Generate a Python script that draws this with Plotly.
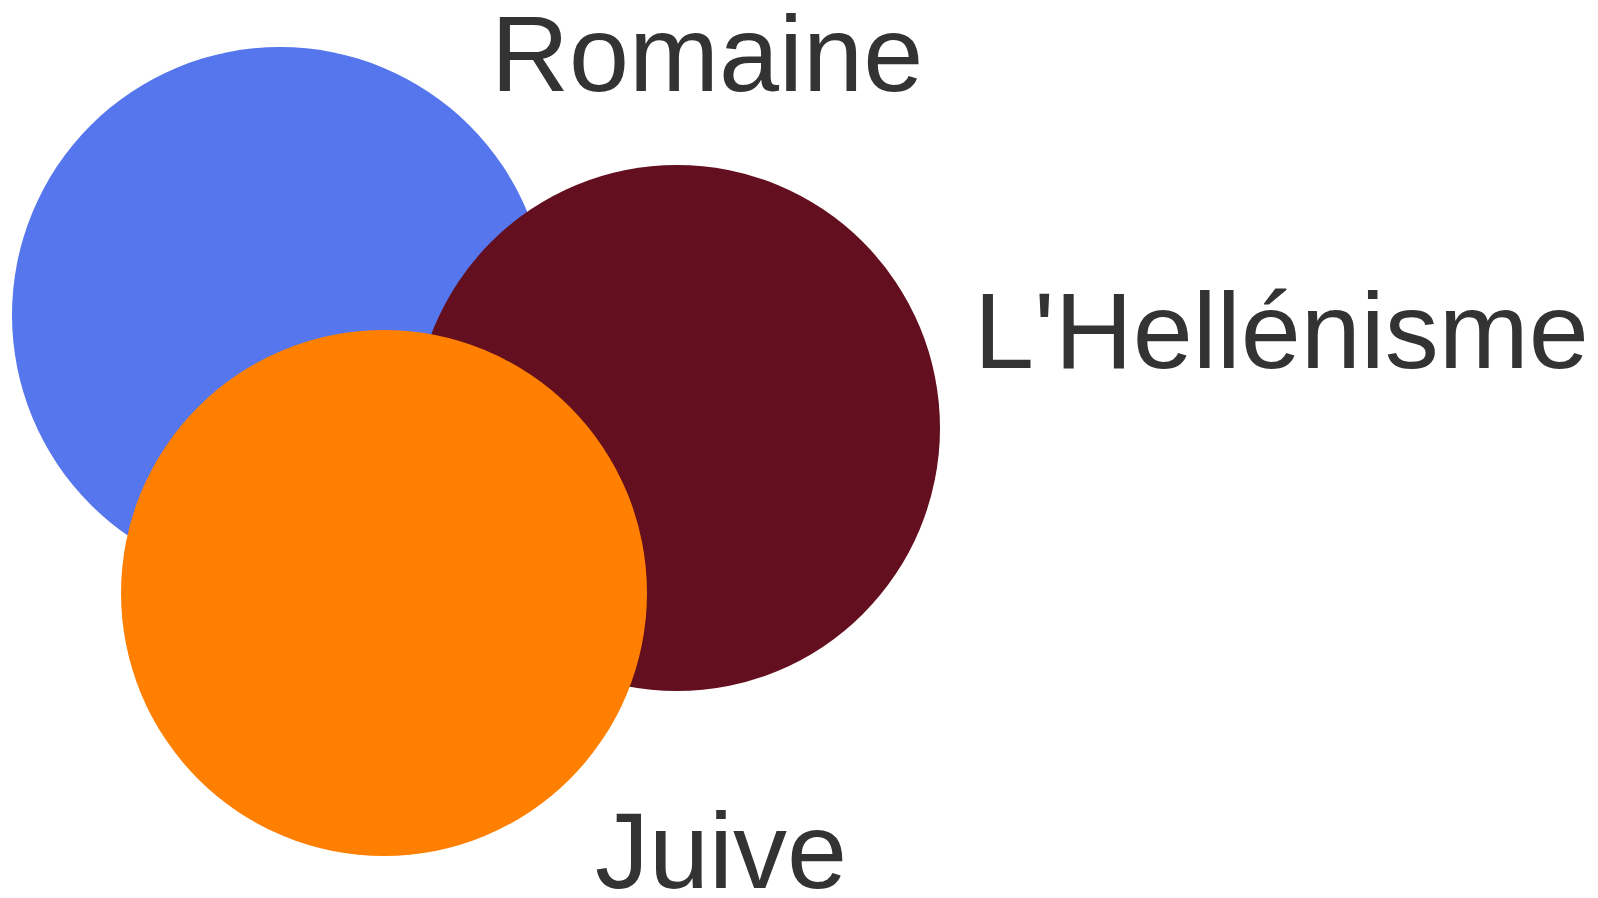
import plotly.graph_objects as go

# Venn diagram: three overlapping sets
set_names = ["Romaine", "L'Hellénisme", "Juive"]
center_x = [280, 677, 384]
center_y = [315, 428, 593]
radius = [268, 263, 263]
fill_colors = ["#5576EC", "#630F1F", "#FF7F00"]

label_x = [707, 1281, 721]
label_y = [53, 330, 850]

W, H = 1598, 898

fig = go.Figure()

shapes = []
for cx, cy, r, c in zip(center_x, center_y, radius, fill_colors):
    shapes.append(dict(
        type="circle", xref="x", yref="y",
        x0=cx - r, x1=cx + r, y0=cy - r, y1=cy + r,
        fillcolor=c, line=dict(width=0), layer="below",
    ))

annotations = []
for name, lx, ly in zip(set_names, label_x, label_y):
    annotations.append(dict(
        x=lx, y=ly, xref="x", yref="y", text=name, showarrow=False,
        xanchor="center", yanchor="middle",
        font=dict(family="Liberation Sans, Arial, sans-serif", size=108, color="#333333"),
    ))

fig.add_trace(go.Scatter(x=[0, W], y=[0, H], mode="markers",
                         marker=dict(opacity=0), hoverinfo="skip", showlegend=False))

fig.update_layout(
    width=W, height=H,
    margin=dict(l=0, r=0, t=0, b=0),
    paper_bgcolor="white", plot_bgcolor="white",
    xaxis=dict(range=[0, W], visible=False, fixedrange=True),
    yaxis=dict(range=[H, 0], visible=False, fixedrange=True),
    shapes=shapes, annotations=annotations, showlegend=False,
)

fig.write_html("out.html", config={"displayModeBar": False},
               post_script="document.body.style.margin='0';document.body.style.overflow='hidden';")
